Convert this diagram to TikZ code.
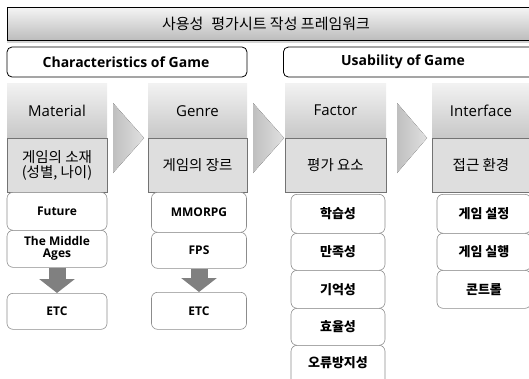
\documentclass[tikz,border=0pt]{standalone}
\usepackage{fontspec}
\setmainfont{Open Sans}
\newfontfamily\kr{Noto Sans CJK KR}
\usetikzlibrary{shadows,arrows.meta}
\begin{document}
\begin{tikzpicture}[x=1pt,y=-1pt,
  titlebar/.style={draw=black, line width=0.8pt, top color=black!4, bottom color=black!26,
    minimum height=33pt, inner sep=0pt,
    drop shadow={shadow xshift=0pt, shadow yshift=-2.5pt, opacity=0.35}},
  groupbox/.style={draw=black, line width=0.8pt, rounded corners=5pt, fill=white,
    minimum height=30pt, inner sep=0pt},
  grouptext/.style={font=\bfseries\fontsize{14}{16}\selectfont},
  headtop/.style={top color=black!5, bottom color=black!22, minimum height=55pt,
    inner sep=0pt, font=\fontsize{15}{18}\selectfont},
  headbot/.style={draw=black!55, line width=0.8pt, fill=black!13, minimum height=54pt,
    inner sep=0pt, align=center, font=\kr\fontsize{14.5}{17}\selectfont},
  item/.style={draw=black!45, line width=0.6pt, rounded corners=6pt, fill=white,
    inner sep=0pt, align=center, font=\bfseries\fontsize{12}{13}\selectfont},
  kitem/.style={item, font=\kr\bfseries\fontsize{13}{14}\selectfont},
  chev/.style={left color=black!25, right color=black!12},
  downarr/.style={draw=black!50, line width=17pt, -{Triangle[width=35pt,length=14pt]}}
]
\useasboundingbox (0,0) rectangle (529,378);
\clip (0,0) rectangle (529,378);

% title
\node[titlebar, minimum width=540pt, anchor=west] (title) at (7,23.5) {};
\node[font=\kr\fontsize{15}{18}\selectfont] (titletext) at (266,23.5) {사용성\hspace{8pt}평가시트 작성 프레임워크};

% group headers
\node[groupbox, minimum width=240pt] (charbox) at (127,62) {};
\node[grouptext] (chartext) at (126,62) {Characteristics of Game};
\node[groupbox, minimum width=260pt, anchor=west] (usebox) at (283,62) {};
\node[grouptext] (usetext) at (403,62) {Usability of Game};

% column headers
\node[headtop, minimum width=100pt, anchor=north] (matT) at (57,83) {Material};
\node[headbot, minimum width=100pt, anchor=north] (matB) at (57,138) {게임의 소재\\[-2pt](성별, 나이)};
\node[headtop, minimum width=99pt, anchor=north] (genT) at (197.5,83) {Genre};
\node[headbot, minimum width=99pt, anchor=north] (genB) at (197.5,138) {게임의 장르};
\node[headtop, minimum width=101pt, anchor=north] (facT) at (335.5,83) {Factor};
\node[headbot, minimum width=101pt, anchor=north] (facB) at (335.5,138) {평가 요소};
\node[headtop, minimum width=98pt, anchor=north] (intT) at (481,83) {Interface};
\node[headbot, minimum width=98pt, anchor=north] (intB) at (481,138) {접근 환경};

% chevrons
\fill[chev] (113,103) -- (144,138) -- (113,173) -- cycle;
\fill[chev] (253,103) -- (284,138) -- (253,173) -- cycle;
\fill[chev] (397,103) -- (427,138) -- (397,173) -- cycle;

% material items
\node[item, minimum width=100pt, minimum height=38pt, anchor=north] (fut) at (57,192) {Future};
\node[item, minimum width=100pt, minimum height=37pt, anchor=north] (mid) at (57,230) {The Middle\\[-1pt]Ages};
\node[item, minimum width=100pt, minimum height=36pt, anchor=north] (etc1) at (57,293) {ETC};
\draw[downarr] (mid.south) -- (etc1.north);

% genre items
\node[item, minimum width=95pt, minimum height=40pt, anchor=north] (mmo) at (199,192) {MMORPG};
\node[item, minimum width=95pt, minimum height=36pt, anchor=north] (fps) at (199,232) {FPS};
\node[item, minimum width=95pt, minimum height=37pt, anchor=north] (etc2) at (199,292) {ETC};
\draw[downarr] (fps.south) -- (etc2.north);

% factor items
\node[kitem, minimum width=94pt, minimum height=39pt, anchor=north] (f1) at (338,194) {학습성};
\node[kitem, minimum width=94pt, minimum height=37pt, anchor=north] (f2) at (338,233) {만족성};
\node[kitem, minimum width=94pt, minimum height=38pt, anchor=north] (f3) at (338,270) {기억성};
\node[kitem, minimum width=94pt, minimum height=37pt, anchor=north] (f4) at (338,308) {효율성};
\node[kitem, minimum width=94pt, minimum height=40pt, anchor=north, text depth=6pt] (f5) at (338,345) {오류방지성};

% interface items
\node[kitem, minimum width=94pt, minimum height=39pt, anchor=north] (i1) at (484,194) {게임 설정};
\node[kitem, minimum width=94pt, minimum height=37pt, anchor=north] (i2) at (484,233) {게임 실행};
\node[kitem, minimum width=94pt, minimum height=38pt, anchor=north] (i3) at (484,270) {콘트롤};
\end{tikzpicture}
\end{document}
